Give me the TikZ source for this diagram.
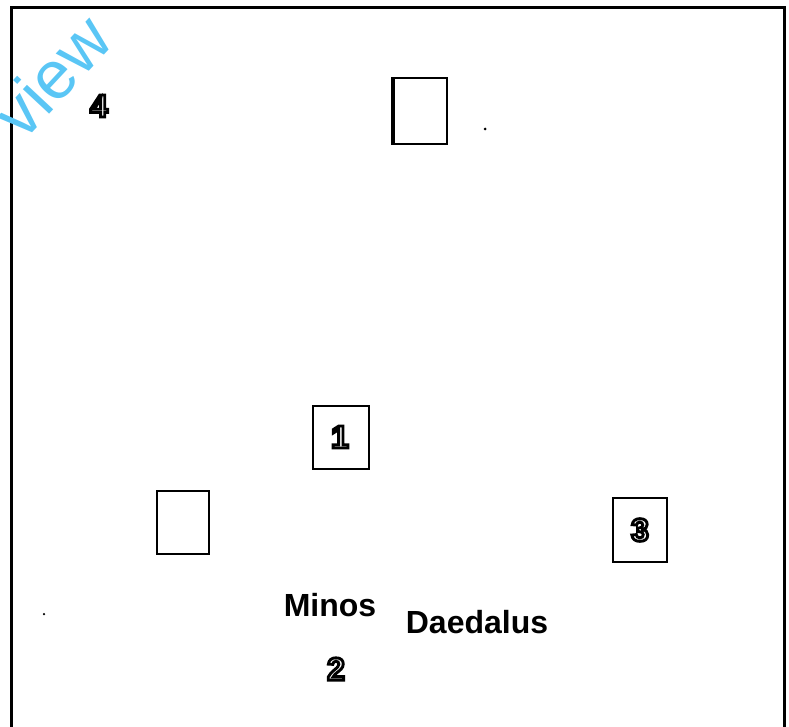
\documentclass[tikz,border=0pt]{standalone}
\usepackage{fontspec}
\setmainfont{Liberation Sans}
\newfontfamily\outfont[FakeBold=9]{Liberation Sans Bold}
\definecolor{wmcyan}{RGB}{90,198,245}
\newcommand\outl[1]{{\outfont\special{pdf:bcolor [1] [0]}#1\special{pdf:ecolor}}}
\tikzset{
  room/.style={draw=black, line width=2.6pt, fill=white},
  frameline/.style={draw=black, line width=3pt},
  lbl/.style={font=\fontsize{32}{32}\bfseries\selectfont, inner sep=0pt, anchor=base},
  dig/.style={font=\fontsize{32}{32}\selectfont, inner sep=0pt},
  speck/.style={fill=black, circle, inner sep=0pt, minimum size=3pt}
}
\begin{document}
\begin{tikzpicture}[x=1pt,y=-1pt]
\useasboundingbox (0,0) rectangle (789,727);
% frame
\coordinate (fbl) at (11,730);
\coordinate (ftl) at (11,8);
\coordinate (ftr) at (784,8);
\coordinate (fbr) at (784,730);
\draw[frameline] (fbl) -- (ftl) -- (ftr) -- (fbr);
% watermark
\node[text=wmcyan, font=\fontsize{68}{68}\selectfont, rotate=47, inner sep=0pt] (wm) at (52,76) {view};
% boxes
\draw[room] (392,78) rectangle (447,144);
\draw[black, line width=2pt] (394,78) -- (394,144);
\draw[room] (313,406) rectangle (369,469);
\draw[room] (157,491) rectangle (209,554);
\draw[room] (613,498) rectangle (667,562);
% specks
\node[speck] (s1) at (485,129) {};
\node[speck, minimum size=2.5pt] (s2) at (44,614) {};
% digits
\node[dig] (d4) at (99,106) {\outl{4}};
\node[dig] (d1) at (340,437) {\outl{1}};
\node[dig] (d3) at (640,530) {\outl{3}};
\node[dig] (d2) at (336,669) {\outl{2}};
% names
\node[lbl] (minos) at (330,616) {Minos};
\node[lbl] (daed) at (477,633) {Daedalus};
\end{tikzpicture}
\end{document}
